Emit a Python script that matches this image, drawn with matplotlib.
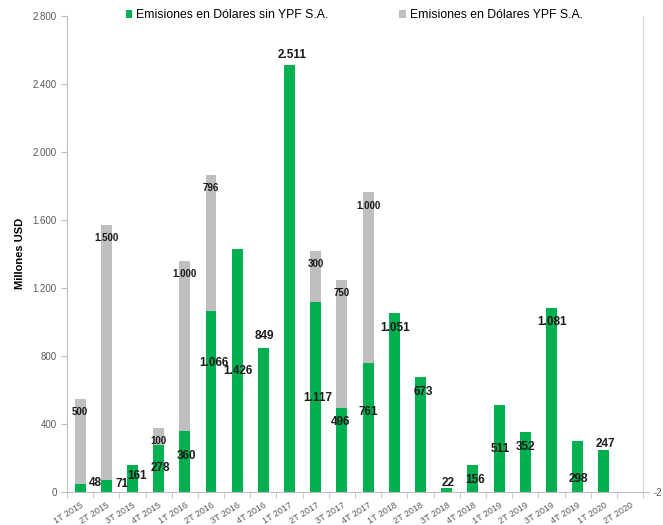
import numpy as np
import matplotlib.pyplot as plt

# trimestres
quarters = ['1T 2015', '2T 2015', '3T 2015', '4T 2015', '1T 2016', '2T 2016', '3T 2016', '4T 2016',
            '1T 2017', '2T 2017', '3T 2017', '4T 2017', '1T 2018', '2T 2018', '3T 2018', '4T 2018',
            '1T 2019', '2T 2019', '3T 2019', '4T 2019', '1T 2020', '2T 2020']
# emisiones en dolares sin YPF (millones USD)
sin_ypf = [48, 71, 161, 278, 360, 1066, 1426, 849, 2511, 1117, 496, 761, 1051, 673, 22, 156,
           511, 352, 1081, 298, 247, 0]
# emisiones en dolares de YPF
ypf = [500, 1500, 0, 100, 1000, 796, 0, 0, 0, 300, 750, 1000, 0, 0, 0, 0,
       0, 0, 0, 0, 0, 0]

# where the green labels sit relative to the bar top (excel moved them by hand)
lab_dx = [0.57, 0.6, 0.17, 0.05, 0.05, 0.1, 0.03, 0.02, 0.09, 0.09, -0.07, 0.0, 0.03, 0.1,
          0.05, 0.08, 0.04, 0.03, 0.03, 0.02, 0.05, 0]
lab_dy = [5, -24, -67, -137, -148, -308, -715, 68, 59, -564, -84, -291, -87, -85,
          31, -85, -258, -87, -81, -222, 35, 0]

green = '#00B050'
grey = '#BFBFBF'
lab_font = ['Liberation Sans Narrow', 'Liberation Sans', 'DejaVu Sans']

fig = plt.figure(figsize=(6.63, 5.25), dpi=100)
ax = fig.add_axes([0.101, 0.063, 0.869, 0.907])

x = np.arange(len(quarters))
sin_ypf = np.array(sin_ypf)
ypf = np.array(ypf)
ax.bar(x, sin_ypf, width=0.42, color=green, label='Emisiones en Dólares sin YPF S.A.', zorder=2)
ax.bar(x, ypf, width=0.42, bottom=sin_ypf, color=grey, label='Emisiones en Dólares YPF S.A.', zorder=2)

for i in range(len(quarters)):
    if sin_ypf[i] > 0:
        ax.text(x[i] + lab_dx[i], sin_ypf[i] + lab_dy[i], format(sin_ypf[i], ',').replace(',', '.'),
                ha='center', va='center', fontsize=8.5, fontweight='bold', family=lab_font,
                color='#1a1a1a', zorder=3)
    if ypf[i] > 0:
        ax.text(x[i], sin_ypf[i] + ypf[i] - 77, format(ypf[i], ',').replace(',', '.'),
                ha='center', va='center', fontsize=7, fontweight='bold', family=lab_font,
                color='#1a1a1a', zorder=3)

ax.set_xlim(-0.5, len(quarters) - 0.5)
ax.set_ylim(0, 2800)
ax.set_yticks(np.arange(0, 2801, 400))
ax.set_yticklabels([format(v, ',').replace(',', '.') for v in range(0, 2801, 400)],
                   fontsize=7, color='#595959', family=lab_font)
ax.set_xticks(x)
ax.set_xticklabels(quarters, rotation=32, ha='right', rotation_mode='anchor',
                   fontsize=6.5, color='#595959', family=lab_font)
ax.tick_params(axis='x', length=0, pad=6)
ax.set_xticks(np.arange(-0.5, len(quarters), 1), minor=True)
ax.tick_params(axis='x', which='minor', length=4, color='#BFBFBF', direction='out')
ax.tick_params(axis='y', length=4, color='#BFBFBF', direction='out')
ax.set_ylabel('Millones USD', fontsize=8, fontweight='bold', family=lab_font, labelpad=5)

for s in ['top', 'right']:
    ax.spines[s].set_visible(False)
ax.spines['left'].set_color('#BFBFBF')
ax.spines['bottom'].set_color('#BFBFBF')

# second axis on the right, only shows a lonely -2
ax2 = ax.twinx()
ax2.set_ylim(-2, 10)
ax2.set_yticks([-2])
ax2.set_yticklabels(['-2'], fontsize=7, color='#595959', family=lab_font)
ax2.tick_params(axis='y', length=4, color='#BFBFBF')
for s in ['top', 'left', 'bottom']:
    ax2.spines[s].set_visible(False)
ax2.spines['right'].set_color('#D9D9D9')

fig.legend(loc='center', bbox_to_anchor=(0.534, 0.971), ncol=2, frameon=False,
           prop={'family': lab_font, 'size': 8.8}, handlelength=0.55, handleheight=0.55,
           handletextpad=0.3, columnspacing=5.8)

fig.savefig('out.png', dpi=100)
